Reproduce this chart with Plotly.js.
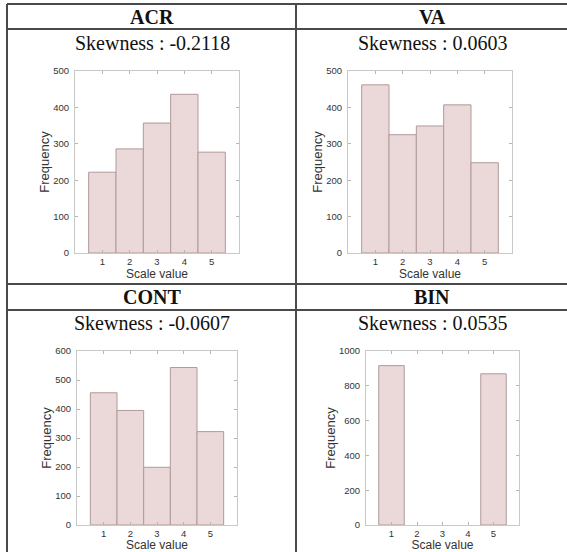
<!DOCTYPE html>
<html>
<head>
<meta charset="utf-8">
<script src="https://cdn.plot.ly/plotly-3.0.1.min.js"></script>
<style>html,body{margin:0;padding:0;background:#fff;}#chart{width:567px;height:552px;}</style>
</head>
<body>
<div id="chart"></div>
<script>
// ---- data ----
var scaleValues = [1, 2, 3, 4, 5];
var acrFreq  = [222, 286, 357, 436, 277];
var vaFreq   = [462, 325, 349, 407, 248];
var contFreq = [456, 395, 199, 543, 322];
var binFreq  = [916, 0, 0, 0, 869];
var panelNames = ['ACR', 'VA', 'CONT', 'BIN'];
var skewness = ['-0.2118', '0.0603', '-0.0607', '0.0535'];
var yMax = [500, 500, 600, 1000];
var yStep = [100, 100, 100, 200];

// ---- layout helpers ----
var W = 567, H = 552;
function px(x) { return x / W; }
function py(y) { return 1 - y / H; }

var series = [acrFreq, vaFreq, contFreq, binFreq];
// plot boxes in pixels [left, right, top, bottom]
var boxes = [
  [75, 239, 71, 253],
  [348, 512, 71, 253],
  [77, 237, 351, 525],
  [366, 519, 351, 525]
];
var headerY = [17, 17, 297, 297];
var skewY = [43, 43, 323, 323];
var cellCX = [152, 432, 152, 432];

var traces = [];
var layout = {
  width: W, height: H,
  margin: {l: 0, r: 0, t: 0, b: 0},
  paper_bgcolor: '#fff', plot_bgcolor: '#fff',
  showlegend: false,
  bargap: 0,
  annotations: [],
  shapes: []
};

var sans = 'Liberation Sans, Arial, sans-serif';
var serif = 'Liberation Serif, Times New Roman, serif';

for (var i = 0; i < 4; i++) {
  var sfx = i === 0 ? '' : String(i + 1);
  traces.push({
    type: 'bar',
    x: scaleValues,
    y: series[i],
    width: 1,
    xaxis: 'x' + sfx,
    yaxis: 'y' + sfx,
    marker: {color: '#ebd8d8',
      line: {color: '#b09a9a', width: series[i].map(function (v) { return v > 0 ? 1 : 0; })}},
    hoverinfo: 'x+y'
  });
  var b = boxes[i];
  var axCommon = {
    showline: true, linecolor: '#c9c9c9', linewidth: 1, mirror: 'ticks',
    ticks: 'inside', ticklen: 3, tickcolor: '#b5b5b5', tickwidth: 1,
    showgrid: false, zeroline: false,
    tickfont: {family: sans, size: 9.5, color: '#333'}
  };
  layout['xaxis' + sfx] = Object.assign({}, axCommon, {
    domain: [px(b[0]), px(b[1])],
    anchor: 'y' + sfx,
    range: [0, 6],
    tickvals: scaleValues,
    ticktext: scaleValues.map(String),
    ticklabelstandoff: 0,
    title: {text: 'Scale value', standoff: 3,
      font: {family: sans, size: 12, color: '#333'}}
  });
  layout['yaxis' + sfx] = Object.assign({}, axCommon, {
    domain: [py(b[3]), py(b[2])],
    anchor: 'x' + sfx,
    range: [0, yMax[i]],
    dtick: yStep[i],
    tick0: 0,
    ticklabelstandoff: 3,
    title: {text: 'Frequency', standoff: 0,
      font: {family: sans, size: 13, color: '#333'}}
  });
  layout.annotations.push({
    xref: 'paper', yref: 'paper', x: px(cellCX[i]), y: py(headerY[i]),
    text: '<b>' + panelNames[i] + '</b>', showarrow: false,
    xanchor: 'center', yanchor: 'middle',
    font: {family: serif, size: 20, color: '#111'}
  });
  layout.annotations.push({
    xref: 'paper', yref: 'paper', x: px(cellCX[i]), y: py(skewY[i]),
    text: 'Skewness : ' + skewness[i], showarrow: false,
    xanchor: 'center', yanchor: 'middle',
    font: {family: serif, size: 20, color: '#111'}
  });
}

// table lines
var lineStyle = {color: '#4a4a4a', width: 2};
var hLines = [4, 29, 284, 310];
hLines.forEach(function (y) {
  layout.shapes.push({type: 'line', xref: 'paper', yref: 'paper',
    x0: px(7), x1: 1.01, y0: py(y), y1: py(y), line: lineStyle});
});
[7, 296].forEach(function (x) {
  layout.shapes.push({type: 'line', xref: 'paper', yref: 'paper',
    x0: px(x), x1: px(x), y0: py(4), y1: -0.01, line: lineStyle});
});

Plotly.newPlot('chart', traces, layout, {displayModeBar: false, staticPlot: true});
</script>
</body>
</html>
